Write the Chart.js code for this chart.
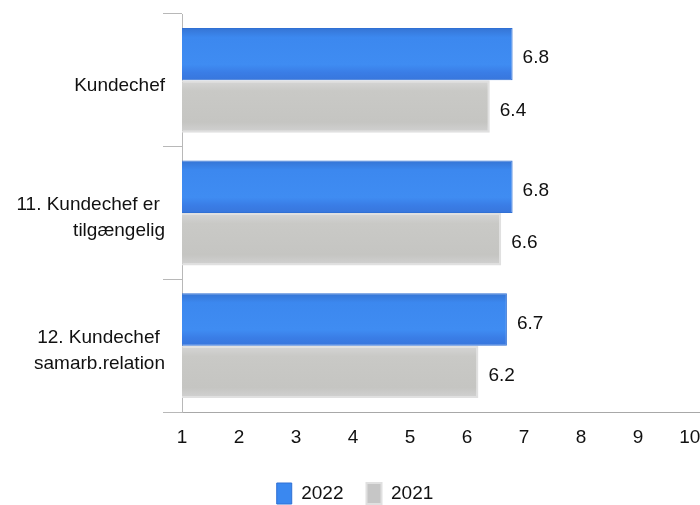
<!DOCTYPE html>
<html>
<head>
<meta charset="utf-8">
<script src="https://cdn.jsdelivr.net/npm/chart.js@4/dist/chart.umd.min.js"></script>
<style>
  html, body { margin: 0; padding: 0; background: #fff; }
  #wrap { width: 700px; height: 505px; }
</style>
</head>
<body>
<div id="wrap"><canvas id="myChart"></canvas></div>
<script>
const categories = [
  ["Kundechef"],
  ["11. Kundechef er ", "tilgængelig"],
  ["12. Kundechef ", "samarb.relation"]
];
const seriesNames = ["2022", "2021"];
const values2022 = [6.8, 6.8, 6.7];
const values2021 = [6.4, 6.6, 6.2];
const xTicks = [1, 2, 3, 4, 5, 6, 7, 8, 9, 10];

const FONT = "'Liberation Sans', Arial, sans-serif";

// colour stops for the shaded bars (top -> bottom)
const shades = [
  [[0, "#3574d4"], [0.18, "#3c88ef"], [0.7, "#3f8cf2"], [0.85, "#3a7de6"], [1, "#3876dc"]],
  [[0, "#d6d6d6"], [0.2, "#c9c9c6"], [0.8, "#c5c5c2"], [1, "#d2d2d2"]]
];

const barShading = {
  id: "barShading",
  beforeDatasetsDraw(chart) {
    const ctx = chart.ctx;
    chart.data.datasets.forEach((ds, i) => {
      chart.getDatasetMeta(i).data.forEach((bar) => {
        const h = bar.height / 2;
        const g = ctx.createLinearGradient(0, bar.y - h, 0, bar.y + h);
        shades[i].forEach(s => g.addColorStop(s[0], s[1]));
        bar.options = Object.assign({}, bar.options, { backgroundColor: g });
      });
    });
  }
};

// draws the value next to each bar
const valueLabels = {
  id: "valueLabels",
  afterDatasetsDraw(chart) {
    const ctx = chart.ctx;
    ctx.save();
    ctx.font = "19px " + FONT;
    ctx.fillStyle = "#111";
    ctx.textAlign = "left";
    ctx.textBaseline = "middle";
    chart.data.datasets.forEach((ds, i) => {
      chart.getDatasetMeta(i).data.forEach((bar, j) => {
        ctx.fillText(ds.data[j].toFixed(1), bar.x + 10, bar.y + 4);
      });
    });
    // axis line runs on to the edge
    const a = chart.chartArea;
    ctx.strokeStyle = "#a8a8a8";
    ctx.lineWidth = 1;
    ctx.beginPath();
    ctx.moveTo(a.right, a.bottom + 0.5);
    ctx.lineTo(chart.width, a.bottom + 0.5);
    ctx.stroke();
    ctx.restore();
  }
};

const ctx = document.getElementById("myChart").getContext("2d");
new Chart(ctx, {
  type: "bar",
  data: {
    labels: categories,
    datasets: [
      {
        label: seriesNames[0],
        data: values2022,
        backgroundColor: "#3a88f0",
        borderColor: "#3070d4",
        borderWidth: 1,
        borderSkipped: false,
        categoryPercentage: 0.79,
        barPercentage: 1.0
      },
      {
        label: seriesNames[1],
        data: values2021,
        backgroundColor: "#c6c6c6",
        borderColor: "#e0e0e0",
        borderWidth: 2,
        borderSkipped: false,
        categoryPercentage: 0.79,
        barPercentage: 1.0
      }
    ]
  },
  options: {
    indexAxis: "y",
    responsive: true,
    maintainAspectRatio: false,
    animation: false,
    layout: { padding: { top: 14, left: 10, right: 0, bottom: -9 } },
    plugins: {
      legend: {
        position: "bottom",
        labels: {
          boxWidth: 15,
          boxHeight: 21,
          padding: 23,
          color: "#111",
          font: { family: FONT, size: 19 }
        }
      },
      tooltip: { enabled: false }
    },
    scales: {
      x: {
        type: "linear",
        min: xTicks[0],
        max: xTicks[xTicks.length - 1],
        afterBuildTicks: (scale) => { scale.ticks = xTicks.map(v => ({ value: v })); },
        ticks: {
          padding: 14,
          color: "#111",
          font: { family: FONT, size: 19 },
          maxRotation: 0,
          callback: (v) => v === 10 ? "10  " : String(v)
        },
        grid: { drawOnChartArea: false, drawTicks: false, color: "rgba(0,0,0,0)" },
        border: { display: true, color: "#a8a8a8", width: 1 },
        afterFit: (scale) => { scale.height = 48; scale.paddingRight = 5; }
      },
      y: {
        ticks: {
          padding: -2,
          labelOffset: 5,
          color: "#111",
          font: { family: FONT, size: 19, lineHeight: 1.37 }
        },
        grid: {
          offset: true,
          drawOnChartArea: false,
          drawTicks: true,
          tickLength: 19,
          color: "#b8b8b8"
        },
        border: { display: true, color: "#b8b8b8", width: 1 },
        afterFit: (scale) => { scale.width = 172; scale.paddingTop = 0; scale.paddingBottom = 0; }
      }
    }
  },
  plugins: [barShading, valueLabels]
});
</script>
</body>
</html>
